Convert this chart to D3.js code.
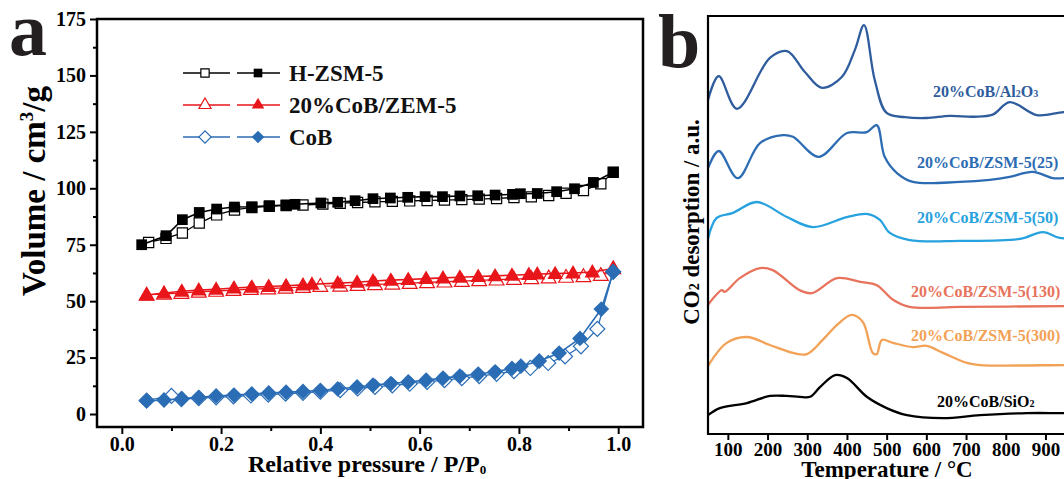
<!DOCTYPE html>
<html>
<head>
<meta charset="utf-8">
<script src="https://cdn.jsdelivr.net/npm/d3@7"></script>
<style>
  body { margin: 0; background: #fff; }
  svg text { font-family: "Liberation Serif", "Times New Roman", serif; font-weight: bold; }
</style>
</head>
<body>
<svg id="canvas" width="1064" height="479"></svg>
<script>
// ---- panel a : N2 isotherms (filled = adsorption, open = desorption) ----
var hzsmAds = [[0.040,75.0],[0.089,79.0],[0.122,86.1],[0.156,89.3],[0.191,90.8],[0.227,91.7],[0.262,91.8],[0.297,92.3],[0.331,92.6],[0.349,92.9],[0.401,93.5],[0.435,93.8],[0.470,94.5],[0.506,95.4],[0.541,95.7],[0.576,96.0],[0.611,96.3],[0.646,96.3],[0.681,96.6],[0.717,96.7],[0.752,97.0],[0.787,97.3],[0.803,97.6],[0.837,97.7],[0.876,98.5],[0.912,99.8],[0.950,102.6],[0.990,107.1]];
var hzsmDes = [[0.990,107.1],[0.965,102.0],[0.930,99.0],[0.895,97.8],[0.860,96.8],[0.825,96.2],[0.790,95.9],[0.755,95.5],[0.720,95.2],[0.685,95.0],[0.650,94.8],[0.615,94.6],[0.580,94.4],[0.545,94.2],[0.510,94.0],[0.475,93.7],[0.440,93.4],[0.405,93.0],[0.365,92.6],[0.331,92.4],[0.297,92.0],[0.262,91.5],[0.227,90.4],[0.191,88.2],[0.156,84.6],[0.122,80.2],[0.089,77.8],[0.054,76.0]];

var cobZsmAds = [[0.05,52.7],[0.085,53.6],[0.121,54.4],[0.155,54.9],[0.19,55.3],[0.226,55.8],[0.262,56.2],[0.296,56.5],[0.331,56.8],[0.365,57.2],[0.383,57.5],[0.435,58.0],[0.474,58.4],[0.506,58.9],[0.542,59.3],[0.577,59.6],[0.613,60.0],[0.647,60.3],[0.681,60.6],[0.718,60.9],[0.752,61.2],[0.786,61.5],[0.82,61.8],[0.837,62.0],[0.873,62.2],[0.909,62.5],[0.948,62.9],[0.99,64.5]];
var cobZsmDes = [[0.99,64.5],[0.965,61.5],[0.93,61.0],[0.895,60.7],[0.86,60.4],[0.825,60.1],[0.79,59.8],[0.755,59.5],[0.72,59.2],[0.685,58.9],[0.65,58.6],[0.615,58.3],[0.58,58.0],[0.545,57.7],[0.51,57.4],[0.475,57.1],[0.44,56.8],[0.40,56.7],[0.365,56.2],[0.33,55.9],[0.295,55.6],[0.26,55.3],[0.225,54.9],[0.19,54.5],[0.155,54.1],[0.12,53.6],[0.085,53.2],[0.05,52.8]];

var cobAds = [[0.05,5.8],[0.085,6.2],[0.121,6.8],[0.155,7.4],[0.19,8.0],[0.226,8.4],[0.262,8.9],[0.296,9.3],[0.331,9.7],[0.365,10.0],[0.40,10.5],[0.435,11.1],[0.474,12.0],[0.506,12.8],[0.542,13.5],[0.577,14.2],[0.613,15.0],[0.647,15.9],[0.681,16.8],[0.718,17.7],[0.752,18.7],[0.786,20.2],[0.804,21.2],[0.841,23.5],[0.881,27.0],[0.923,33.5],[0.966,46.5],[0.99,63.0]];
var cobDes = [[0.99,63.0],[0.958,37.7],[0.925,30.0],[0.893,25.5],[0.859,22.6],[0.823,20.4],[0.79,19.0],[0.755,17.8],[0.72,16.8],[0.685,15.9],[0.65,15.0],[0.615,14.2],[0.58,13.4],[0.545,12.7],[0.51,12.0],[0.475,11.3],[0.44,10.6],[0.40,9.9],[0.365,9.4],[0.33,9.0],[0.295,8.6],[0.26,8.2],[0.225,7.8],[0.19,7.4],[0.155,7.0],[0.12,6.6],[0.10,8.0],[0.05,6.0]];

var isoNames = ['H-ZSM-5', '20%CoB/ZEM-5', 'CoB'];
var isoColors = ['#000000', '#e8161b', '#2a6db5'];
var isoShapes = ['square', 'triangle', 'diamond'];
var isoAds = [hzsmAds, cobZsmAds, cobAds];
var isoDes = [hzsmDes, cobZsmDes, cobDes];

var pTicks = [0.0, 0.2, 0.4, 0.6, 0.8, 1.0];
var vTicks = [0, 25, 50, 75, 100, 125, 150, 175];

// ---- panel b : CO2-TPD profiles, [temperature, intensity a.u.] ----
var tpdAl2O3 = [[50,79.9],[77,85.6],[123,77.8],[206,90.0],[249,91.6],[294,86.6],[337,82.8],[387,85.4],[420,91.9],[443,97.8],[470,84.7],[500,76.8],[546,75.8],[600,75.6],[659,76.1],[720,75.9],[767,76.4],[810,79.4],[878,76.3],[946,77.0],[1000,77.0]];
var tpdZsm25 = [[50,63.6],[77,67.7],[125,61.2],[181,69.6],[239,71.5],[264,71.1],[329,66.3],[400,72.0],[450,72.2],[475,73.9],[495,66.3],[526,62.4],[566,60.3],[684,60.3],[760,60.8],[810,61.5],[868,62.7],[919,61.2],[946,61.2],[1000,61.2]];
var tpdZsm50 = [[50,46.7],[72,51.7],[113,52.9],[173,55.5],[249,51.9],[314,49.5],[400,51.9],[453,52.6],[483,51.2],[508,48.1],[558,46.4],[684,46.2],[836,46.7],[894,48.3],[936,46.9],[1000,46.9]];
var tpdZsm130 = [[50,30.9],[85,34.4],[92,34.0],[130,37.3],[181,39.7],[213,39.2],[281,34.4],[312,33.7],[375,37.3],[433,36.4],[475,35.6],[516,32.1],[558,30.4],[684,30.4],[946,30.6],[1000,30.6]];
var tpdZsm300 = [[50,16.3],[97,21.8],[148,23.2],[206,21.3],[264,19.4],[299,19.1],[339,22.5],[375,26.1],[412,28.5],[440,26.8],[465,19.4],[475,19.1],[488,22.5],[516,21.8],[566,20.8],[601,21.1],[642,19.4],[702,17.0],[735,16.5],[946,16.5],[1000,16.5]];
var tpdSiO2 = [[50,4.5],[80,6.2],[148,7.4],[206,9.1],[249,9.1],[281,8.9],[307,8.9],[332,11.2],[370,14.1],[400,13.4],[450,8.9],[500,6.2],[551,4.5],[642,3.8],[735,4.5],[853,5.0],[936,5.0],[1000,5.0]];

var tpdNames = ['20%CoB/Al|2|O|3|', '20%CoB/ZSM-5(25)', '20%CoB/ZSM-5(50)', '20%CoB/ZSM-5(130)', '20%CoB/ZSM-5(300)', '20%CoB/SiO|2|'];
var tpdColors = ['#2e5c9c', '#2d6cb3', '#27a2de', '#e8735c', '#f2a257', '#000000'];
var tpdSeries = [tpdAl2O3, tpdZsm25, tpdZsm50, tpdZsm130, tpdZsm300, tpdSiO2];
var tTicks = [100, 200, 300, 400, 500, 600, 700, 800, 900];

var svg = d3.select('svg#canvas');

// ================= panel a =================
var ax = {left: 97, right: 643, top: 19, bottom: 427};
var x = d3.scaleLinear().domain([-0.05, 1.05]).range([ax.left, ax.right]);
var y = d3.scaleLinear().domain([-5.75, 175]).range([ax.bottom, ax.top]);

var ga = svg.append('g').attr('class', 'panel-a');

var markSize = {square: 115, triangle: 105, diamond: 125};

function symbolPath(shape, size) {
  if (shape == 'triangle') return d3.symbol().type(d3.symbolTriangle).size(size)();
  return d3.symbol().type(d3.symbolSquare).size(size)();
}
function symbolRot(shape) { return shape == 'diamond' ? ' rotate(45)' : ''; }

var line = d3.line().x(function(d) { return x(d[0]); }).y(function(d) { return y(d[1]); });

isoNames.forEach(function(name, i) {
  var g = ga.append('g');
  var shape = isoShapes[i];
  var dy = shape == 'triangle' ? 1 : 0;
  // desorption (open) first, adsorption (filled) drawn above
  g.append('path').attr('d', line(isoDes[i])).attr('fill', 'none')
    .attr('stroke', isoColors[i]).attr('stroke-width', 1.3);
  g.selectAll('.open').data(isoDes[i]).enter().append('path')
    .attr('d', symbolPath(shape, markSize[shape] * 0.9))
    .attr('transform', function(d) { return 'translate(' + x(d[0]) + ',' + (y(d[1]) + dy) + ')' + symbolRot(shape); })
    .attr('fill', '#fff').attr('stroke', isoColors[i]).attr('stroke-width', 1.2);
  g.append('path').attr('d', line(isoAds[i])).attr('fill', 'none')
    .attr('stroke', isoColors[i]).attr('stroke-width', 1.6);
  g.selectAll('.filled').data(isoAds[i]).enter().append('path')
    .attr('d', symbolPath(shape, markSize[shape]))
    .attr('transform', function(d) { return 'translate(' + x(d[0]) + ',' + (y(d[1]) + dy) + ')' + symbolRot(shape); })
    .attr('fill', isoColors[i]);
});

// frame and axes
ga.append('rect').attr('x', ax.left).attr('y', ax.top)
  .attr('width', ax.right - ax.left).attr('height', ax.bottom - ax.top)
  .attr('fill', 'none').attr('stroke', '#000').attr('stroke-width', 2.5);

ga.append('g').attr('transform', 'translate(0,' + ax.bottom + ')')
  .call(d3.axisBottom(x).tickValues(pTicks).tickFormat(d3.format('.1f')).tickSize(7).tickPadding(3));
ga.append('g').attr('transform', 'translate(0,' + ax.bottom + ')')
  .call(d3.axisBottom(x).tickValues(d3.range(0.1, 1.01, 0.2)).tickFormat('').tickSize(4));
ga.append('g').attr('transform', 'translate(' + ax.left + ',0)')
  .call(d3.axisLeft(y).tickValues(vTicks).tickSize(7).tickPadding(4));
ga.append('g').attr('transform', 'translate(' + ax.left + ',0)')
  .call(d3.axisLeft(y).tickValues(d3.range(12.5, 175, 25)).tickFormat('').tickSize(4));

ga.selectAll('.domain').remove();
ga.selectAll('.tick line').attr('stroke', '#000').attr('stroke-width', 2);
ga.selectAll('.tick text').attr('fill', '#000').style('font-size', '20px')
  .style('font-family', '"Liberation Serif", serif').style('font-weight', 'bold');

// legend
var legY = [73, 105, 137];
isoNames.forEach(function(name, i) {
  var shape = isoShapes[i];
  var lg = ga.append('g').attr('transform', 'translate(0,' + legY[i] + ')');
  lg.append('line').attr('x1', 183).attr('x2', 230).attr('stroke', isoColors[i]).attr('stroke-width', 1.6);
  lg.append('line').attr('x1', 237).attr('x2', 280).attr('stroke', isoColors[i]).attr('stroke-width', 1.6);
  lg.append('path').attr('d', symbolPath(shape, markSize[shape] * 0.6))
    .attr('transform', 'translate(205,0)' + symbolRot(shape))
    .attr('fill', '#fff').attr('stroke', isoColors[i]).attr('stroke-width', 1.2);
  lg.append('path').attr('d', symbolPath(shape, markSize[shape] * 0.65))
    .attr('transform', 'translate(258,0)' + symbolRot(shape))
    .attr('fill', isoColors[i]);
  lg.append('text').attr('x', 289).attr('y', 8).style('font-size', '23px').attr('fill', '#111').text(name);
});

// axis titles
ga.append('text').attr('x', (ax.left + ax.right) / 2 - 3).attr('y', 472)
  .attr('text-anchor', 'middle').style('font-size', '24px')
  .html('Relative pressure / P/P<tspan font-size="13px" dy="2">0</tspan>');
ga.append('text').attr('transform', 'translate(45,' + 191 + ') rotate(-90)')
  .attr('text-anchor', 'middle').style('font-size', '33px')
  .html('Volume / cm<tspan font-size="19px" dy="-12">3</tspan><tspan dy="12">/g</tspan>');
svg.append('text').attr('x', 9).attr('y', 55).style('font-size', '76px').attr('fill', '#231f20').text('a');

// ================= panel b =================
var bx = {left: 708, top: 16, bottom: 434};
var xt = d3.scaleLinear().domain([50, 1000]).range([bx.left, bx.left + 950 * 0.397]);
var yt = d3.scaleLinear().domain([0, 100]).range([bx.bottom, bx.top]);

var gb = svg.append('g').attr('class', 'panel-b');
gb.append('clipPath').attr('id', 'clipb').append('rect')
  .attr('x', bx.left).attr('y', bx.top).attr('width', 400).attr('height', bx.bottom - bx.top);

var tline = d3.line().curve(d3.curveCatmullRom.alpha(0.5))
  .x(function(d) { return xt(d[0]); }).y(function(d) { return yt(d[1]); });

gb.append('g').attr('clip-path', 'url(#clipb)').selectAll('path').data(tpdSeries).enter().append('path')
  .attr('d', function(d) { return tline(d); })
  .attr('fill', 'none')
  .attr('stroke', function(d, i) { return tpdColors[i]; })
  .attr('stroke-width', 2.3)
  .attr('stroke-linejoin', 'round');

// curve labels (x start, baseline y)
var labelPos = [[933, 97], [917, 168], [917, 223], [911, 297], [911, 341], [937, 407]];
tpdNames.forEach(function(name, i) {
  var t = gb.append('text').attr('x', labelPos[i][0]).attr('y', labelPos[i][1])
    .attr('fill', tpdColors[i]).style('font-size', '16px');
  name.split('|').forEach(function(part, k) {
    if (k % 2 == 0) t.append('tspan').text(part);
    else t.append('tspan').attr('font-size', '10px').text(part);
  });
});

// frame
gb.append('path').attr('d', 'M1066,' + bx.top + 'H' + bx.left + 'V' + bx.bottom + 'H1066')
  .attr('fill', 'none').attr('stroke', '#000').attr('stroke-width', 2.2);

gb.append('g').attr('transform', 'translate(0,' + bx.bottom + ')')
  .call(d3.axisBottom(xt).tickValues(tTicks).tickSize(6).tickPadding(3));
gb.selectAll('.domain').remove();
gb.selectAll('.tick line').attr('stroke', '#000').attr('stroke-width', 2);
gb.selectAll('.tick text').attr('fill', '#000').style('font-size', '19px')
  .style('font-family', '"Liberation Serif", serif').style('font-weight', 'bold');

gb.append('text').attr('x', 887).attr('y', 477).attr('text-anchor', 'middle')
  .style('font-size', '23px').text('Temperature / \u00b0C');
gb.append('text').attr('transform', 'translate(699,222) rotate(-90)')
  .attr('text-anchor', 'middle').style('font-size', '23px')
  .html('CO<tspan font-size="14px">2</tspan> desorption / a.u.');
svg.append('text').attr('x', 658).attr('y', 67).style('font-size', '76px').attr('fill', '#231f20').text('b');
</script>
</body>
</html>
